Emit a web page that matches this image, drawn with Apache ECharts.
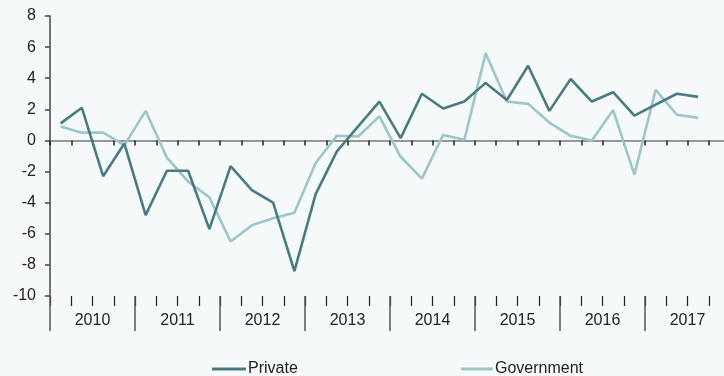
<!DOCTYPE html>
<html>
<head>
<meta charset="utf-8">
<script src="https://cdn.jsdelivr.net/npm/echarts@6/dist/echarts.min.js"></script>
<style>
html,body{margin:0;padding:0;background:#f5f9fa;}
#chart{width:724px;height:376px;}
</style>
</head>
<body>
<div id="chart"></div>
<script>
var years = ['2010','2011','2012','2013','2014','2015','2016','2017'];
var quarters = ['Q1','Q2','Q3','Q4'];
var privateVals = [1.1, 2.1, -2.3, -0.2, -4.8, -1.95, -1.95, -5.7, -1.65, -3.2, -4.0, -8.4, -3.45, -0.7, 0.9, 2.5, 0.15, 3.0, 2.05, 2.5, 3.7, 2.6, 4.8, 1.9, 3.95, 2.5, 3.1, 1.6, 2.3, 3.0, 2.8, null];
var governmentVals = [0.9, 0.5, 0.5, -0.3, 1.9, -1.1, -2.65, -3.65, -6.5, -5.45, -5.0, -4.65, -1.45, 0.3, 0.25, 1.55, -1.05, -2.45, 0.35, 0.05, 5.6, 2.5, 2.35, 1.15, 0.3, 0.0, 1.95, -2.2, 3.25, 1.65, 1.45, null];
var yTicks = [-10, -8, -6, -4, -2, 0, 2, 4, 6, 8];

var quarterCats = [];
years.forEach(function(y){ quarters.forEach(function(q){ quarterCats.push(y + ' ' + q); }); });

var font = 'Liberation Sans, Arial, sans-serif';
var chart = echarts.init(document.getElementById('chart'));
chart.setOption({
  backgroundColor: '#f5f9fa',
  animation: false,
  grid: {left: 50, top: 16, width: 680, height: 280, containLabel: false, outerBoundsMode: 'none'},
  legend: [
    {left: 207, top: 356, itemWidth: 34, itemHeight: 3, icon: 'rect', data: ['Private'],
     textStyle: {fontFamily: font, fontSize: 16, color: '#222', padding: [0, 0, 0, -3]}},
    {left: 456, top: 356, itemWidth: 32, itemHeight: 3, icon: 'rect', data: ['Government'],
     textStyle: {fontFamily: font, fontSize: 16, color: '#222', padding: [0, 0, 0, -3]}}
  ],
  xAxis: [
    {type: 'category', data: quarterCats, boundaryGap: true,
     axisLine: {onZero: true, lineStyle: {color: '#777', width: 1.5}},
     axisTick: {show: true, interval: 0, length: 5, lineStyle: {color: '#222', width: 1.5}},
     axisLabel: {show: false}, splitLine: {show: false}},
    {type: 'category', data: quarterCats, boundaryGap: true, position: 'bottom',
     axisLine: {show: false, onZero: false},
     axisTick: {show: true, interval: 0, length: 10, lineStyle: {color: '#222', width: 1.2}},
     axisLabel: {show: false}, splitLine: {show: false}},
    {type: 'category', data: years, boundaryGap: true, position: 'bottom',
     axisLine: {show: false, onZero: false},
     axisTick: {show: true, interval: 0, length: 35, lineStyle: {color: '#555', width: 1.5}},
     axisLabel: {show: true, interval: 0, margin: 17, fontFamily: font, fontSize: 16, color: '#222'},
     splitLine: {show: false}}
  ],
  yAxis: {
    type: 'value', min: yTicks[0], max: yTicks[yTicks.length - 1], interval: 2,
    axisLine: {show: true, lineStyle: {color: '#444', width: 1.5}},
    axisTick: {show: true, length: 5, lineStyle: {color: '#444', width: 1.5}},
    axisLabel: {fontFamily: font, fontSize: 16, color: '#222', margin: 14},
    splitLine: {show: false}
  },
  series: [
    {name: 'Private', type: 'line', data: privateVals, xAxisIndex: 0, symbol: 'none',
     lineStyle: {color: '#4a7b80', width: 2.6}, itemStyle: {color: '#4a7b80'}, z: 3},
    {name: 'Government', type: 'line', data: governmentVals, xAxisIndex: 0, symbol: 'none',
     lineStyle: {color: '#9cc6ca', width: 2.6}, itemStyle: {color: '#9cc6ca'}, z: 2}
  ]
});
</script>
</body>
</html>
